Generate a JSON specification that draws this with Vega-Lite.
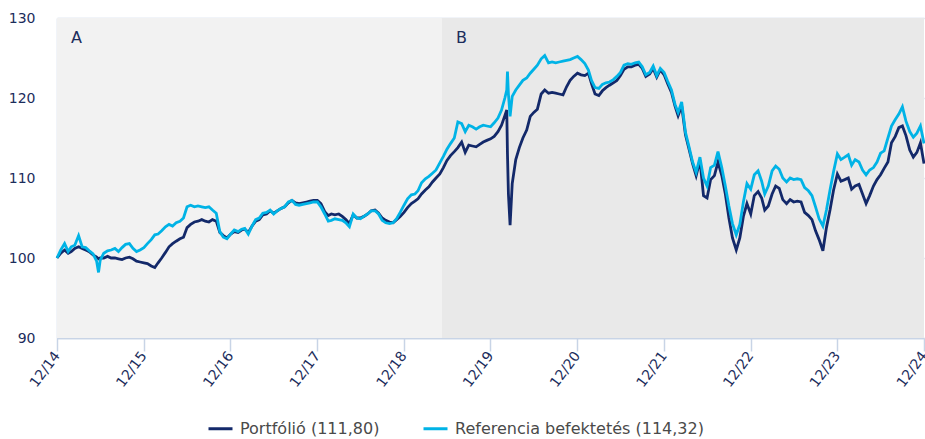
{
  "$schema": "https://vega.github.io/schema/vega-lite/v6.json",
  "width": 867,
  "height": 320,
  "autosize": {"type": "none"},
  "padding": {"left": 57, "top": 18, "right": 1, "bottom": 101},
  "background": "white",
  "config": {
    "font": "DejaVu Sans",
    "view": {"stroke": null}
  },
  "datasets": {
    "regions": [
      {"s": "2014-12-31", "e": "2019-06-10", "c": "A"},
      {"s": "2019-06-10", "e": "2024-12-31", "c": "B"}
    ],
    "series": [
      {"d": "2014-12-31", "p": 100.0, "b": 100.0},
      {"d": "2015-01-16", "p": 100.6, "b": 101.0},
      {"d": "2015-02-01", "p": 101.0, "b": 101.8},
      {"d": "2015-02-16", "p": 100.6, "b": 100.8},
      {"d": "2015-03-01", "p": 100.8, "b": 101.4},
      {"d": "2015-03-16", "p": 101.2, "b": 101.6},
      {"d": "2015-04-01", "p": 101.4, "b": 102.8},
      {"d": "2015-04-16", "p": 101.2, "b": 101.4},
      {"d": "2015-05-01", "p": 101.0, "b": 101.3},
      {"d": "2015-05-16", "p": 100.8, "b": 100.9},
      {"d": "2015-06-01", "p": 100.4, "b": 100.5},
      {"d": "2015-06-16", "p": 100.1, "b": 99.6},
      {"d": "2015-06-24", "p": 99.9, "b": 98.2},
      {"d": "2015-07-01", "p": 100.0, "b": 99.7},
      {"d": "2015-07-16", "p": 100.0, "b": 100.6},
      {"d": "2015-08-01", "p": 100.2, "b": 100.9},
      {"d": "2015-08-16", "p": 100.0, "b": 101.0},
      {"d": "2015-09-01", "p": 100.0, "b": 101.2},
      {"d": "2015-09-16", "p": 99.9, "b": 100.8},
      {"d": "2015-10-01", "p": 99.8, "b": 101.3},
      {"d": "2015-10-16", "p": 100.0, "b": 101.7},
      {"d": "2015-11-01", "p": 100.1, "b": 101.8},
      {"d": "2015-11-16", "p": 99.9, "b": 101.2},
      {"d": "2015-12-01", "p": 99.6, "b": 100.8},
      {"d": "2015-12-16", "p": 99.5, "b": 101.0},
      {"d": "2016-01-01", "p": 99.4, "b": 101.3},
      {"d": "2016-01-16", "p": 99.3, "b": 101.8},
      {"d": "2016-02-01", "p": 99.0, "b": 102.3},
      {"d": "2016-02-16", "p": 98.8, "b": 102.9},
      {"d": "2016-03-01", "p": 99.4, "b": 103.0},
      {"d": "2016-03-16", "p": 100.0, "b": 103.4},
      {"d": "2016-04-01", "p": 100.7, "b": 103.9},
      {"d": "2016-04-16", "p": 101.4, "b": 104.2},
      {"d": "2016-05-01", "p": 101.8, "b": 104.0},
      {"d": "2016-05-16", "p": 102.1, "b": 104.4},
      {"d": "2016-06-01", "p": 102.4, "b": 104.6},
      {"d": "2016-06-16", "p": 102.6, "b": 105.0},
      {"d": "2016-07-01", "p": 103.8, "b": 106.4},
      {"d": "2016-07-16", "p": 104.2, "b": 106.6},
      {"d": "2016-08-01", "p": 104.5, "b": 106.4},
      {"d": "2016-08-16", "p": 104.6, "b": 106.5},
      {"d": "2016-09-01", "p": 104.8, "b": 106.4},
      {"d": "2016-09-16", "p": 104.6, "b": 106.3},
      {"d": "2016-10-01", "p": 104.5, "b": 106.4},
      {"d": "2016-10-16", "p": 104.8, "b": 106.0},
      {"d": "2016-11-01", "p": 104.6, "b": 105.6},
      {"d": "2016-11-16", "p": 103.2, "b": 103.3},
      {"d": "2016-12-01", "p": 102.8, "b": 102.6},
      {"d": "2016-12-16", "p": 102.5, "b": 102.4},
      {"d": "2017-01-01", "p": 103.0, "b": 103.0},
      {"d": "2017-01-16", "p": 103.3, "b": 103.5},
      {"d": "2017-02-01", "p": 103.2, "b": 103.3},
      {"d": "2017-02-16", "p": 103.5, "b": 103.6},
      {"d": "2017-03-01", "p": 103.6, "b": 103.7},
      {"d": "2017-03-16", "p": 103.2, "b": 103.0},
      {"d": "2017-04-01", "p": 104.0, "b": 104.0},
      {"d": "2017-04-16", "p": 104.6, "b": 104.8},
      {"d": "2017-05-01", "p": 104.8, "b": 105.0},
      {"d": "2017-05-16", "p": 105.4, "b": 105.6},
      {"d": "2017-06-01", "p": 105.5, "b": 105.7},
      {"d": "2017-06-16", "p": 105.9, "b": 106.0},
      {"d": "2017-07-01", "p": 105.6, "b": 105.5},
      {"d": "2017-07-16", "p": 105.9, "b": 105.9},
      {"d": "2017-08-01", "p": 106.2, "b": 106.2},
      {"d": "2017-08-16", "p": 106.4, "b": 106.4},
      {"d": "2017-09-01", "p": 106.9, "b": 107.0},
      {"d": "2017-09-16", "p": 107.2, "b": 107.2},
      {"d": "2017-10-01", "p": 106.9, "b": 106.7},
      {"d": "2017-10-16", "p": 106.8, "b": 106.6},
      {"d": "2017-11-01", "p": 106.9, "b": 106.7},
      {"d": "2017-11-16", "p": 107.0, "b": 106.8},
      {"d": "2017-12-01", "p": 107.1, "b": 106.9},
      {"d": "2017-12-16", "p": 107.2, "b": 107.0},
      {"d": "2018-01-01", "p": 107.2, "b": 107.0},
      {"d": "2018-01-16", "p": 106.8, "b": 106.4},
      {"d": "2018-02-01", "p": 105.8, "b": 105.5},
      {"d": "2018-02-16", "p": 105.3, "b": 104.6},
      {"d": "2018-03-01", "p": 105.5, "b": 104.7},
      {"d": "2018-03-16", "p": 105.4, "b": 104.9},
      {"d": "2018-04-01", "p": 105.5, "b": 104.8},
      {"d": "2018-04-16", "p": 105.2, "b": 104.7},
      {"d": "2018-05-01", "p": 104.8, "b": 104.4},
      {"d": "2018-05-16", "p": 104.3, "b": 103.9},
      {"d": "2018-06-01", "p": 105.4, "b": 105.5},
      {"d": "2018-06-16", "p": 105.0, "b": 105.0},
      {"d": "2018-07-01", "p": 105.0, "b": 104.9},
      {"d": "2018-07-16", "p": 105.2, "b": 105.2},
      {"d": "2018-08-01", "p": 105.5, "b": 105.5},
      {"d": "2018-08-16", "p": 105.9, "b": 105.9},
      {"d": "2018-09-01", "p": 106.0, "b": 105.9},
      {"d": "2018-09-16", "p": 105.6, "b": 105.5},
      {"d": "2018-10-01", "p": 105.0, "b": 104.7},
      {"d": "2018-10-16", "p": 104.7, "b": 104.4},
      {"d": "2018-11-01", "p": 104.5, "b": 104.3},
      {"d": "2018-11-16", "p": 104.4, "b": 104.4},
      {"d": "2018-12-01", "p": 104.8, "b": 104.9},
      {"d": "2018-12-16", "p": 105.2, "b": 105.7},
      {"d": "2019-01-01", "p": 105.7, "b": 106.6},
      {"d": "2019-01-16", "p": 106.3, "b": 107.4},
      {"d": "2019-02-01", "p": 106.8, "b": 107.9},
      {"d": "2019-02-16", "p": 107.1, "b": 108.0},
      {"d": "2019-03-01", "p": 107.4, "b": 108.4},
      {"d": "2019-03-16", "p": 108.0, "b": 109.4},
      {"d": "2019-04-01", "p": 108.5, "b": 109.9},
      {"d": "2019-04-16", "p": 108.9, "b": 110.2},
      {"d": "2019-05-01", "p": 109.5, "b": 110.6},
      {"d": "2019-05-16", "p": 110.0, "b": 111.0},
      {"d": "2019-06-01", "p": 110.5, "b": 111.9},
      {"d": "2019-06-16", "p": 111.3, "b": 112.7},
      {"d": "2019-07-01", "p": 112.2, "b": 113.6},
      {"d": "2019-07-16", "p": 112.8, "b": 114.3},
      {"d": "2019-08-01", "p": 113.3, "b": 115.0},
      {"d": "2019-08-16", "p": 113.8, "b": 117.0},
      {"d": "2019-09-01", "p": 114.5, "b": 116.8},
      {"d": "2019-09-16", "p": 113.2, "b": 115.8},
      {"d": "2019-10-01", "p": 114.1, "b": 116.6},
      {"d": "2019-10-16", "p": 114.0, "b": 116.4},
      {"d": "2019-11-01", "p": 113.9, "b": 116.1},
      {"d": "2019-11-16", "p": 114.2, "b": 116.4},
      {"d": "2019-12-01", "p": 114.5, "b": 116.6},
      {"d": "2019-12-16", "p": 114.7, "b": 116.5},
      {"d": "2020-01-01", "p": 114.9, "b": 116.4},
      {"d": "2020-01-16", "p": 115.2, "b": 116.9},
      {"d": "2020-02-01", "p": 115.8, "b": 117.5},
      {"d": "2020-02-16", "p": 116.6, "b": 118.5},
      {"d": "2020-03-01", "p": 117.8, "b": 120.0},
      {"d": "2020-03-09", "p": 118.5, "b": 121.0},
      {"d": "2020-03-12", "p": 113.0, "b": 123.3},
      {"d": "2020-03-16", "p": 108.0, "b": 120.5},
      {"d": "2020-03-23", "p": 104.1, "b": 117.7},
      {"d": "2020-04-01", "p": 109.3, "b": 120.2},
      {"d": "2020-04-16", "p": 112.3, "b": 121.0},
      {"d": "2020-05-01", "p": 113.8, "b": 121.6},
      {"d": "2020-05-16", "p": 115.0, "b": 122.2},
      {"d": "2020-06-01", "p": 116.0, "b": 122.5},
      {"d": "2020-06-16", "p": 117.7, "b": 123.1},
      {"d": "2020-07-01", "p": 118.2, "b": 123.6},
      {"d": "2020-07-16", "p": 118.6, "b": 124.1},
      {"d": "2020-08-01", "p": 120.5, "b": 124.9},
      {"d": "2020-08-16", "p": 121.0, "b": 125.3},
      {"d": "2020-09-01", "p": 120.6, "b": 124.4},
      {"d": "2020-09-16", "p": 120.7, "b": 124.5},
      {"d": "2020-10-01", "p": 120.6, "b": 124.4},
      {"d": "2020-10-16", "p": 120.5, "b": 124.5},
      {"d": "2020-11-01", "p": 120.4, "b": 124.6},
      {"d": "2020-11-16", "p": 121.4, "b": 124.7},
      {"d": "2020-12-01", "p": 122.2, "b": 124.8},
      {"d": "2020-12-16", "p": 122.7, "b": 125.0},
      {"d": "2021-01-01", "p": 123.1, "b": 125.2},
      {"d": "2021-01-16", "p": 122.9, "b": 124.8},
      {"d": "2021-02-01", "p": 122.8, "b": 124.3},
      {"d": "2021-02-16", "p": 123.1, "b": 123.5},
      {"d": "2021-03-01", "p": 121.8, "b": 122.2},
      {"d": "2021-03-16", "p": 120.5, "b": 121.3},
      {"d": "2021-04-01", "p": 120.3, "b": 121.2},
      {"d": "2021-04-16", "p": 120.9, "b": 121.7},
      {"d": "2021-05-01", "p": 121.3, "b": 121.9},
      {"d": "2021-05-16", "p": 121.6, "b": 122.0},
      {"d": "2021-06-01", "p": 121.9, "b": 122.3},
      {"d": "2021-06-16", "p": 122.2, "b": 122.7},
      {"d": "2021-07-01", "p": 122.8, "b": 123.2},
      {"d": "2021-07-16", "p": 123.6, "b": 124.1},
      {"d": "2021-08-01", "p": 123.9, "b": 124.3},
      {"d": "2021-08-16", "p": 123.9, "b": 124.2},
      {"d": "2021-09-01", "p": 124.1, "b": 124.4},
      {"d": "2021-09-16", "p": 124.2, "b": 124.5},
      {"d": "2021-10-01", "p": 123.7, "b": 123.9},
      {"d": "2021-10-16", "p": 122.7, "b": 122.9},
      {"d": "2021-11-01", "p": 123.0, "b": 123.2},
      {"d": "2021-11-16", "p": 123.7, "b": 124.0},
      {"d": "2021-12-01", "p": 122.6, "b": 122.8},
      {"d": "2021-12-16", "p": 123.5, "b": 123.7},
      {"d": "2022-01-01", "p": 122.9, "b": 123.2},
      {"d": "2022-01-16", "p": 121.8, "b": 122.1},
      {"d": "2022-02-01", "p": 120.7, "b": 121.0},
      {"d": "2022-02-16", "p": 119.0, "b": 119.2},
      {"d": "2022-03-01", "p": 117.8, "b": 118.2},
      {"d": "2022-03-16", "p": 119.0, "b": 119.5},
      {"d": "2022-04-01", "p": 115.4, "b": 115.7},
      {"d": "2022-04-16", "p": 113.6, "b": 113.9},
      {"d": "2022-05-01", "p": 111.8, "b": 112.0},
      {"d": "2022-05-16", "p": 110.3, "b": 110.7},
      {"d": "2022-06-01", "p": 112.2, "b": 112.6},
      {"d": "2022-06-16", "p": 107.8, "b": 110.0},
      {"d": "2022-07-01", "p": 107.5, "b": 109.0},
      {"d": "2022-07-16", "p": 109.8, "b": 111.3},
      {"d": "2022-08-01", "p": 110.3, "b": 111.6},
      {"d": "2022-08-16", "p": 112.0, "b": 113.3},
      {"d": "2022-09-01", "p": 110.3, "b": 111.3},
      {"d": "2022-09-16", "p": 108.0, "b": 109.0},
      {"d": "2022-10-01", "p": 105.0, "b": 106.5},
      {"d": "2022-10-16", "p": 102.5, "b": 104.3},
      {"d": "2022-11-01", "p": 101.0, "b": 102.9},
      {"d": "2022-11-16", "p": 102.5, "b": 104.2},
      {"d": "2022-12-01", "p": 105.2, "b": 107.0},
      {"d": "2022-12-16", "p": 106.8, "b": 109.3},
      {"d": "2023-01-01", "p": 105.5, "b": 108.6},
      {"d": "2023-01-16", "p": 107.8, "b": 110.4},
      {"d": "2023-02-01", "p": 108.3, "b": 110.9},
      {"d": "2023-02-16", "p": 107.5, "b": 109.6},
      {"d": "2023-03-01", "p": 106.0, "b": 108.0},
      {"d": "2023-03-16", "p": 106.5, "b": 109.0},
      {"d": "2023-04-01", "p": 108.0, "b": 110.9},
      {"d": "2023-04-16", "p": 109.0, "b": 111.5},
      {"d": "2023-05-01", "p": 108.7, "b": 111.1},
      {"d": "2023-05-16", "p": 107.3, "b": 110.0},
      {"d": "2023-06-01", "p": 106.8, "b": 109.5},
      {"d": "2023-06-16", "p": 107.3, "b": 110.0},
      {"d": "2023-07-01", "p": 107.0, "b": 109.8},
      {"d": "2023-07-16", "p": 107.1, "b": 109.9},
      {"d": "2023-08-01", "p": 107.0, "b": 109.8},
      {"d": "2023-08-16", "p": 105.7, "b": 108.8},
      {"d": "2023-09-01", "p": 105.3, "b": 108.4},
      {"d": "2023-09-16", "p": 104.8, "b": 107.8},
      {"d": "2023-10-01", "p": 103.4, "b": 106.4},
      {"d": "2023-10-16", "p": 102.3, "b": 104.9},
      {"d": "2023-11-01", "p": 100.9, "b": 104.0},
      {"d": "2023-11-16", "p": 103.8, "b": 106.0},
      {"d": "2023-12-01", "p": 106.0, "b": 108.5},
      {"d": "2023-12-16", "p": 108.5, "b": 110.8},
      {"d": "2024-01-01", "p": 110.5, "b": 113.0},
      {"d": "2024-01-16", "p": 109.6, "b": 112.3},
      {"d": "2024-02-01", "p": 109.8, "b": 112.6},
      {"d": "2024-02-16", "p": 110.0, "b": 112.9},
      {"d": "2024-03-01", "p": 108.6, "b": 111.6},
      {"d": "2024-03-16", "p": 109.0, "b": 112.3},
      {"d": "2024-04-01", "p": 109.2, "b": 112.0},
      {"d": "2024-04-16", "p": 108.0, "b": 111.0},
      {"d": "2024-05-01", "p": 106.8, "b": 110.4},
      {"d": "2024-05-16", "p": 107.8, "b": 111.0},
      {"d": "2024-06-01", "p": 109.0, "b": 111.3},
      {"d": "2024-06-16", "p": 109.8, "b": 112.0},
      {"d": "2024-07-01", "p": 110.4, "b": 113.1},
      {"d": "2024-07-16", "p": 111.2, "b": 113.4},
      {"d": "2024-08-01", "p": 112.0, "b": 115.0},
      {"d": "2024-08-16", "p": 114.4, "b": 116.5},
      {"d": "2024-09-01", "p": 115.2, "b": 117.3},
      {"d": "2024-09-16", "p": 116.3, "b": 118.0},
      {"d": "2024-10-01", "p": 116.5, "b": 118.9},
      {"d": "2024-10-16", "p": 115.3, "b": 117.1},
      {"d": "2024-11-01", "p": 113.5, "b": 115.8},
      {"d": "2024-11-16", "p": 112.6, "b": 115.1},
      {"d": "2024-12-01", "p": 113.2, "b": 115.6},
      {"d": "2024-12-16", "p": 114.4, "b": 116.5},
      {"d": "2024-12-31", "p": 111.8, "b": 114.32}
    ]
  },
  "layer": [
    {
      "data": {"name": "regions"},
      "mark": {"type": "rect"},
      "encoding": {
        "x": {"field": "s", "type": "temporal", "scale": {"domain": ["2014-12-31", "2024-12-31"]}, "axis": {
          "values": [
            {"year": 2014, "month": 12, "date": 31},
            {"year": 2015, "month": 12, "date": 31},
            {"year": 2016, "month": 12, "date": 31},
            {"year": 2017, "month": 12, "date": 31},
            {"year": 2018, "month": 12, "date": 31},
            {"year": 2019, "month": 12, "date": 31},
            {"year": 2020, "month": 12, "date": 31},
            {"year": 2021, "month": 12, "date": 31},
            {"year": 2022, "month": 12, "date": 31},
            {"year": 2023, "month": 12, "date": 31},
            {"year": 2024, "month": 12, "date": 31}
          ],
          "format": "%m/%y",
          "title": null,
          "grid": false,
          "domainColor": "#c8d4e6",
          "domainWidth": 1.5,
          "tickColor": "#c8d4e6",
          "tickWidth": 1.5,
          "tickSize": 13,
          "labelAngle": -53,
          "labelAlign": "right",
          "labelBaseline": "middle",
          "labelPadding": 2,
          "labelFontSize": 14,
          "labelColor": "#1c2d5c",
          "labelOverlap": false,
          "labelFlush": false
        }},
        "x2": {"field": "e"},
        "color": {"condition": {"test": "datum.c === 'A'", "value": "#f2f2f2"}, "value": "#e9e9e9"}
      }
    },
    {
      "data": {"name": "series"},
      "transform": [{"fold": ["p", "b"], "as": ["k", "v"]}],
      "mark": {"type": "line", "strokeWidth": 2.8, "interpolate": "linear"},
      "encoding": {
        "x": {"field": "d", "type": "temporal"},
        "y": {"field": "v", "type": "quantitative",
          "scale": {"domain": [90, 130], "nice": false, "zero": false},
          "axis": {
            "values": [90, 100, 110, 120, 130],
            "title": null,
            "grid": true,
            "gridColor": "#c8d4e6",
            "gridWidth": 1.5,
            "ticks": false,
            "domainColor": "#c8d4e6",
            "domainWidth": 1.5,
            "labelPadding": 22,
            "labelFontSize": 14,
            "labelColor": "#1c2d5c"
          }},
        "color": {"field": "k", "type": "nominal",
          "scale": {"domain": ["p", "b"], "range": ["#13296a", "#00b3e6"]},
          "legend": {
            "title": null,
            "orient": "none",
            "direction": "horizontal",
            "legendX": 150,
            "legendY": 397,
            "symbolType": "stroke",
            "symbolSize": 576,
            "symbolStrokeWidth": 3,
            "labelFontSize": 16,
            "labelColor": "#4a4a4a",
            "labelLimit": 400,
            "labelOffset": 6,
            "columnPadding": 37,
            "labelExpr": "datum.value === 'p' ? 'Portfólió (111,80)' : 'Referencia befektetés (114,32)'"
          }},
        "order": {"field": "d", "type": "temporal"}
      }
    },
    {
      "data": {"values": [{"d": "2014-12-31", "y": 127.5, "t": "A"}, {"d": "2019-06-10", "y": 127.5, "t": "B"}]},
      "mark": {"type": "text", "align": "left", "baseline": "middle", "dx": 14, "fontSize": 16, "color": "#1c2d5c"},
      "encoding": {
        "x": {"field": "d", "type": "temporal"},
        "y": {"field": "y", "type": "quantitative"},
        "text": {"field": "t"}
      }
    }
  ]
}
